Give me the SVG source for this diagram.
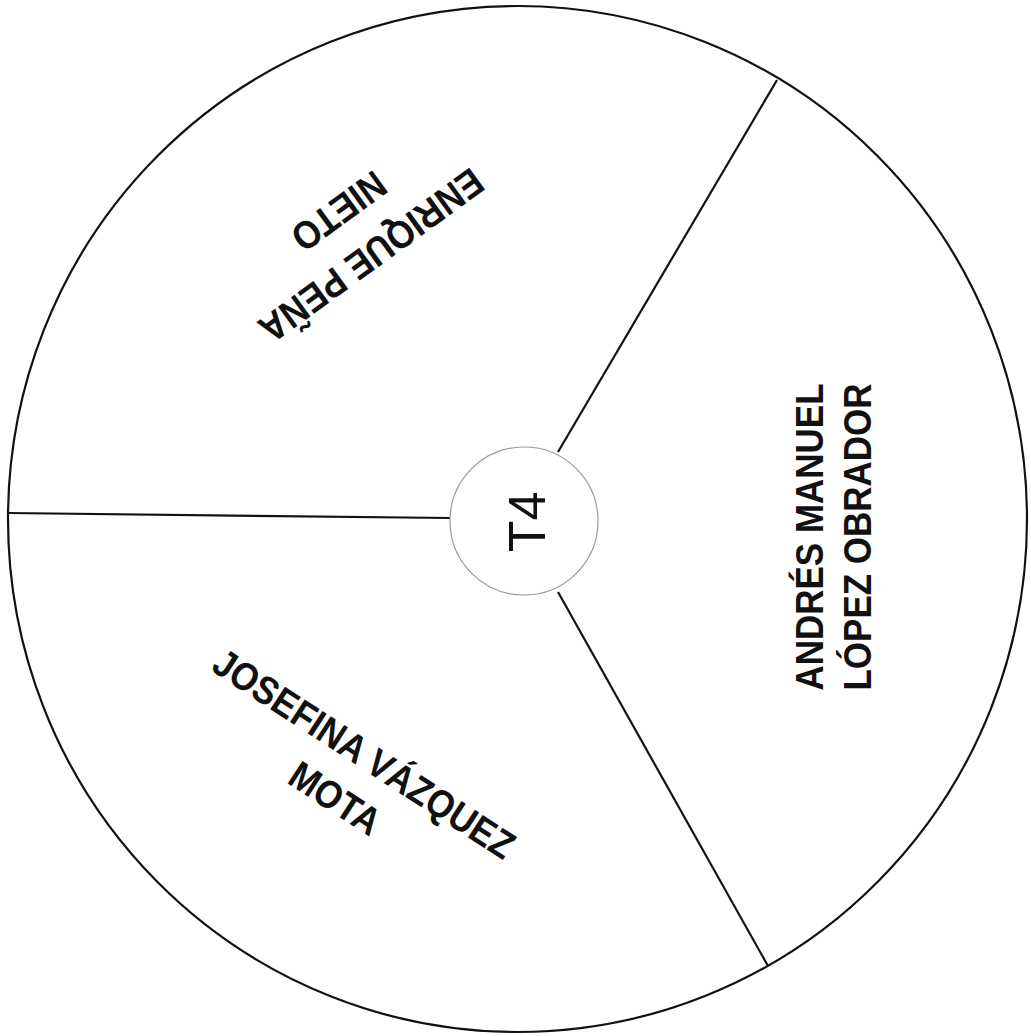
<svg xmlns="http://www.w3.org/2000/svg" width="1031" height="1036" viewBox="0 0 1031 1036">
<style>
.rim{fill:#fff;stroke:#111;stroke-width:2.2}
.hub{fill:#fff;stroke:#999;stroke-width:1.2}
.sep{stroke:#111;stroke-width:2.2;fill:none}
.lbl{font-family:"Liberation Sans",Arial,sans-serif;font-weight:bold;font-size:35px;fill:#111;text-anchor:middle}
.hubt{font-family:"Liberation Sans",Arial,sans-serif;font-size:52px;fill:#111;text-anchor:middle}
</style>
<rect width="1031" height="1036" fill="#fff"/>
<g id="wheel"><ellipse class="rim" cx="517.5" cy="519" rx="509.5" ry="513"/></g>
<g id="connectors">
<line class="sep" x1="558" y1="452" x2="777" y2="80"/>
<line class="sep" x1="450" y1="518" x2="8" y2="513"/>
<line class="sep" x1="558" y1="592" x2="768" y2="966"/>
</g>
<g id="hub">
<circle class="hub" cx="524" cy="521" r="74"/>
<text class="hubt" transform="translate(526,522) rotate(-90)" y="19">T4</text>
</g>
<g id="sector-pena" transform="translate(354.5,232.5) rotate(144) scale(1,1.12)">
<text class="lbl" y="-13.4">ENRIQUE PEÑA</text>
<text class="lbl" y="35.7">NIETO</text>
</g>
<g id="sector-lopez" transform="translate(837,537) rotate(-90) scale(1,1.12)">
<text class="lbl" y="-12.5">ANDRÉS MANUEL</text>
<text class="lbl" y="30.4">LÓPEZ OBRADOR</text>
</g>
<g id="sector-vazquez" transform="translate(349,777) rotate(33) scale(1,1.12)">
<text class="lbl" y="-12.5">JOSEFINA VÁZQUEZ</text>
<text class="lbl" y="34.8">MOTA</text>
</g>
</svg>
